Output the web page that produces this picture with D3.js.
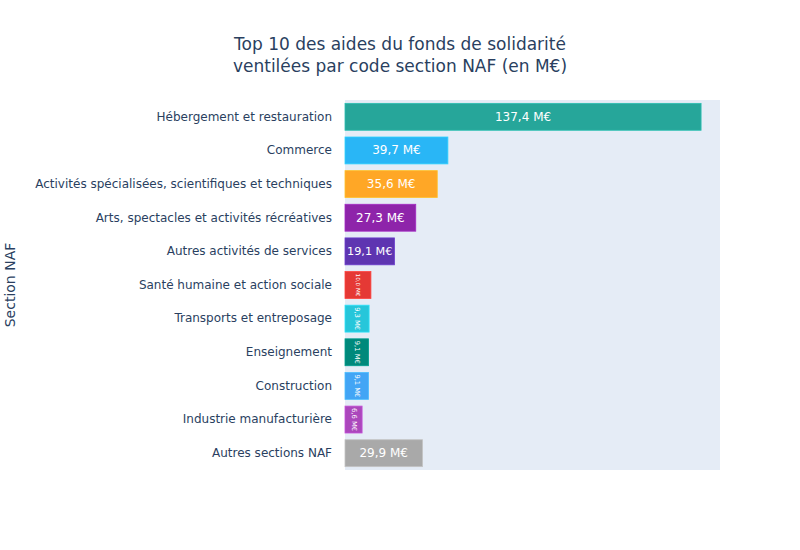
<!DOCTYPE html>
<html>
<head>
<meta charset="utf-8">
<script src="https://cdn.jsdelivr.net/npm/d3@7"></script>
<style>
  body { margin: 0; background: #fff; }
  text { font-family: "DejaVu Sans", Verdana, sans-serif; }
</style>
</head>
<body>
<div id="chart"></div>
<script>
// donnees du graphique
const sections = [
    "Hébergement et restauration",
    "Commerce",
    "Activités spécialisées, scientifiques et techniques",
    "Arts, spectacles et activités récréatives",
    "Autres activités de services",
    "Santé humaine et action sociale",
    "Transports et entreposage",
    "Enseignement",
    "Construction",
    "Industrie manufacturière",
    "Autres sections NAF"
];
const montants = [137.4, 39.7, 35.6, 27.3, 19.1, 10.0, 9.3, 9.1, 9.1, 6.6, 29.9];
const couleurs = ["#26a69a", "#29b6f6", "#ffa726", "#8e24aa", "#5e35b1", "#e53935",
    "#26c6da", "#00897b", "#42a5f5", "#ab47bc", "#a9a9a9"];
const titre = ["Top 10 des aides du fonds de solidarité", "ventilées par code section NAF (en M€)"];

const width = 800, height = 550;
const margin = { top: 100, right: 80, bottom: 80, left: 345 };
const innerW = width - margin.left - margin.right;
const innerH = height - margin.top - margin.bottom;

const svg = d3.select("#chart").append("svg")
    .attr("width", width)
    .attr("height", height);

// titre sur deux lignes
svg.append("text")
    .attr("x", 400).attr("y", 50)
    .attr("text-anchor", "middle")
    .attr("fill", "#2a3f5f")
    .style("font-size", "17px")
    .selectAll("tspan")
    .data(titre)
    .join("tspan")
    .attr("x", 400)
    .attr("dy", (d, i) => i === 0 ? 0 : 22)
    .text(d => d);

const g = svg.append("g").attr("transform", `translate(${margin.left},${margin.top})`);

// fond de la zone du graphique
g.append("rect")
    .attr("width", innerW).attr("height", innerH)
    .attr("fill", "#e5ecf6");

const x = d3.scaleLinear().domain([0, 144.7]).range([0, innerW]);
const y = d3.scaleBand().domain(sections).range([0, innerH])
    .paddingInner(0.2).paddingOuter(0.1);

// axe des categories
const yAxis = g.append("g")
    .call(d3.axisLeft(y).tickSize(0).tickPadding(13));
yAxis.select(".domain").remove();
yAxis.selectAll("text")
    .attr("fill", "#2a3f5f")
    .attr("dy", "0.32em")
    .style("font-size", "12px")
    .style("font-family", "\"DejaVu Sans\", Verdana, sans-serif");

// titre de l'axe
svg.append("text")
    .attr("transform", `translate(10,${margin.top + innerH / 2}) rotate(-90)`)
    .attr("text-anchor", "middle")
    .attr("dy", "0.35em")
    .attr("fill", "#2a3f5f")
    .style("font-size", "14px")
    .text("Section NAF");

const data = sections.map((s, i) => ({ section: s, valeur: montants[i], couleur: couleurs[i] }));

const bars = g.selectAll(".bar")
    .data(data)
    .join("g")
    .attr("class", "bar");

bars.append("rect")
    .attr("x", x(0))
    .attr("y", d => y(d.section))
    .attr("width", d => x(d.valeur) - x(0))
    .attr("height", y.bandwidth())
    .attr("fill", d => d.couleur)
    .attr("stroke", d => d3.color(d.couleur).brighter(0.4))
    .attr("stroke-width", 0.8);

// texte dans les barres, redimensionne (et tourne) pour tenir dedans
const fmt = v => v.toFixed(1).replace(".", ",") + " M€";
bars.each(function (d) {
    const w = x(d.valeur) - x(0);
    const h = y.bandwidth();
    const t = d3.select(this).append("text")
        .attr("fill", "#fff")
        .attr("text-anchor", "middle")
        .attr("dominant-baseline", "central")
        .style("font-size", "12px")
        .text(fmt(d.valeur));
    const tw = t.node().getComputedTextLength();
    const th = 13;
    const sH = Math.min(1, (w - 4) / tw, (h - 4) / th);
    const sR = Math.min(1, (h - 4) / tw, (w - 4) / th);
    const cx = w / 2, cy = y(d.section) + h / 2;
    if (sH >= sR) {
        t.style("font-size", `${12 * sH}px`)
            .attr("transform", `translate(${cx},${cy})`);
    } else {
        t.style("font-size", `${12 * sR}px`)
            .attr("transform", `translate(${cx},${cy}) rotate(90)`);
    }
});
</script>
</body>
</html>
